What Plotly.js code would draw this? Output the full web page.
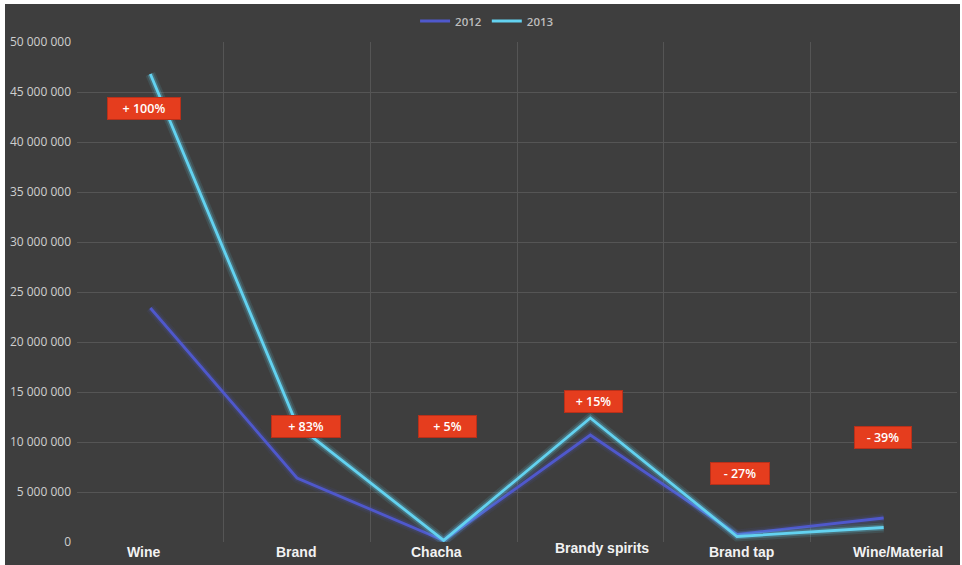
<!DOCTYPE html>
<html>
<head>
<meta charset="utf-8">
<script src="https://cdn.plot.ly/plotly-3.0.1.min.js"></script>
<style>
html,body{margin:0;padding:0;background:#ffffff;}
#chart{position:absolute;left:5px;top:4px;width:955px;height:561px;}
</style>
</head>
<body>
<div id="chart"></div>
<script>
// Data
const categories = ["Wine", "Brand", "Chacha", "Brandy spirits", "Brand tap", "Wine/Material"];
const values2012 = [23400000, 6400000, 150000, 10700000, 750000, 2400000];
const values2013 = [46800000, 11700000, 160000, 12400000, 550000, 1450000];
const changeLabels = ["+ 100%", "+ 83%", "+ 5%", "+ 15%", "- 27%", "- 39%"];
const labelValues = [43400000, 11600000, 11600000, 14100000, 6900000, 10500000];

const c2012 = "#4f58cc";
const c2013 = "#63d2f0";

function glow(y, color, name, strength) {
  return [
    {x: categories, y: y, type: "scatter", mode: "lines", legendgroup: name, showlegend: false,
     hoverinfo: "skip", line: {color: color, width: 10}, opacity: 0.10 * strength, cliponaxis: false},
    {x: categories, y: y, type: "scatter", mode: "lines", legendgroup: name, showlegend: false,
     hoverinfo: "skip", line: {color: color, width: 6}, opacity: 0.22 * strength, cliponaxis: false},
    {x: categories, y: y, type: "scatter", mode: "lines", name: name, legendgroup: name,
     line: {color: color, width: 2.8}, cliponaxis: false}
  ];
}

const traces = [].concat(glow(values2012, c2012, "2012", 0.8), glow(values2013, c2013, "2013", 1.2));

const widths = [72, 68, 57, 57, 58, 56];
const xshifts = [-6, 9, 4, 3, 3, -1];
const boxes = changeLabels.map((t, i) => ({
  x: categories[i], y: labelValues[i], xref: "x", yref: "y",
  text: t, showarrow: false, xshift: xshifts[i],
  bgcolor: "#e53d1e", bordercolor: "#b8301a", borderwidth: 1, borderpad: 0,
  width: widths[i], height: 21,
  font: {family: "Open Sans, Arial, sans-serif", size: 12.5, color: "#ffffff", weight: 600}
}));

// category labels drawn as text at the bottom
const labelShift = [-6, -1, -7, 12, 4, 14];
const labelY = [-10, -10, -10, -6, -10, -10];
const catLabels = categories.map((c, i) => ({
  x: c, y: 0, xref: "x", yref: "paper", yanchor: "middle",
  text: c, showarrow: false, xshift: labelShift[i], yshift: labelY[i],
  font: {family: "Liberation Sans, Arial, sans-serif", size: 14, color: "#f2f2f2", weight: "bold"}
}));

const layout = {
  width: 955, height: 561,
  paper_bgcolor: "#3e3e3e", plot_bgcolor: "#3e3e3e",
  margin: {l: 72, r: 3, t: 34, b: 23, pad: 0},
  separators: ". ",
  showlegend: true,
  legend: {orientation: "h", x: 0.466, xanchor: "center", y: 1.042, yanchor: "middle",
    font: {family: "Open Sans, Arial, sans-serif", size: 11.5, color: "#bdbdbd", weight: 600},
    bgcolor: "rgba(0,0,0,0)", itemwidth: 30, tracegroupgap: 0},
  xaxis: {type: "category", range: [-0.5, 5.5], tickson: "boundaries",
    showgrid: true, gridcolor: "#555555", gridwidth: 1, showline: false, zeroline: false,
    ticks: "", ticklen: 0, showticklabels: false},
  yaxis: {range: [0, 50000000], dtick: 5000000, tickformat: ",d",
    showgrid: true, gridcolor: "#555555", gridwidth: 1, zeroline: false, showline: false,
    ticks: "", ticklabelstandoff: 5,
    tickfont: {family: "Open Sans, Arial, sans-serif", size: 12, color: "#cfcfcf"}},
  annotations: boxes.concat(catLabels)
};

Plotly.newPlot("chart", traces, layout, {displayModeBar: false, staticPlot: true});
</script>
</body>
</html>
